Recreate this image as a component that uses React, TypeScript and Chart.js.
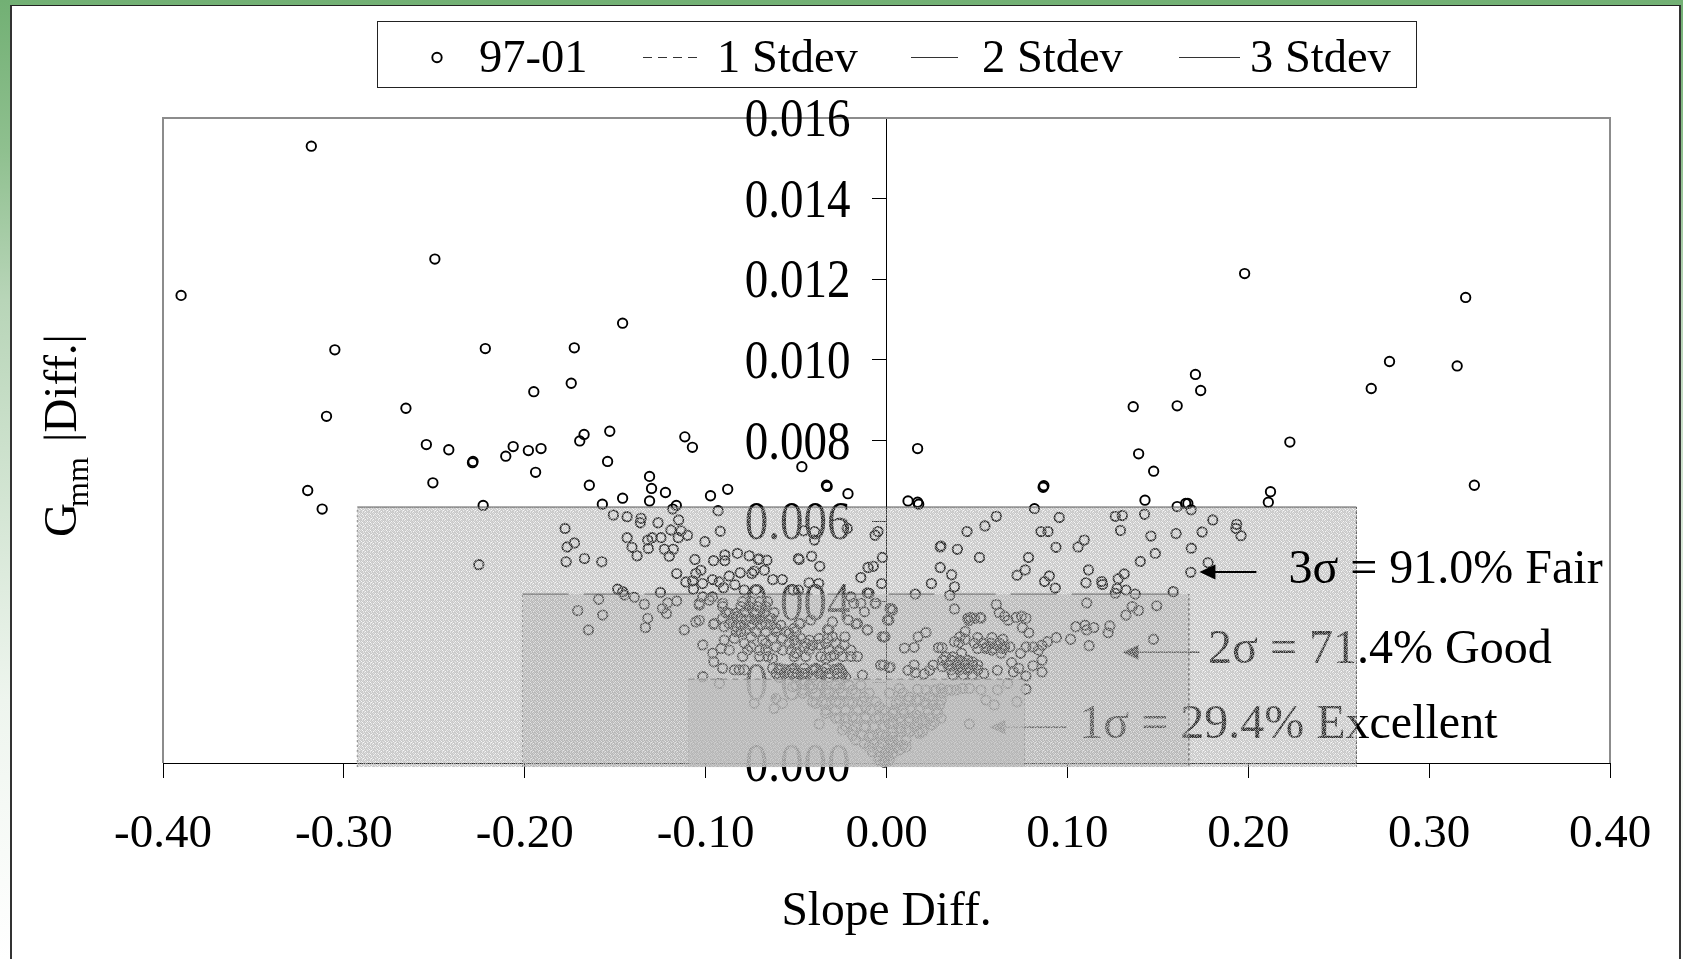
import React, { useEffect, useRef } from "react";
import { Chart, registerables } from "chart.js";

Chart.register(...registerables);

const SERIF = '"Liberation Serif", "Times New Roman", serif';

const outliersLeft: [number, number][] = [
  [-0.39,0.0116],[-0.318,0.0153],[-0.305,0.01025],[-0.3096,0.0086],[-0.32,0.00676],[-0.312,0.0063],[-0.2497,0.0125],[-0.2657,0.0088],[-0.2544,0.0079],[-0.242,0.00777],[-0.2508,0.00695],[-0.2218,0.01028],[-0.2289,0.00745],[-0.2286,0.00748],[-0.2105,0.00761],[-0.2064,0.00785],[-0.198,0.00775],[-0.191,0.0078],[-0.195,0.00921],[-0.194,0.00721],[-0.1743,0.00942],[-0.1726,0.0103],[-0.1672,0.00815],[-0.1696,0.00799],[-0.153,0.00823],[-0.1542,0.00748],[-0.1459,0.01091],[-0.1643,0.00689],[-0.1459,0.00657],[-0.1571,0.00642],[-0.223,0.00639],[-0.131,0.00711],[-0.1299,0.00681],[-0.131,0.0065],[-0.1222,0.00671],[-0.1162,0.00639],[-0.1115,0.00809],[-0.1073,0.00783],[-0.0973,0.00663],[-0.0878,0.00679],[-0.0931,0.00626],[-0.0468,0.00735],[-0.0332,0.00689],[-0.0328,0.00686],[-0.0213,0.00668],[-0.1182,0.0063],
];

const outliersRight: [number, number][] = [
  [0.198,0.01214],[0.3202,0.01155],[0.3155,0.00985],[0.2781,0.00996],[0.268,0.00929],[0.325,0.00689],[0.223,0.00796],[0.2123,0.00673],[0.2111,0.00647],[0.1708,0.00964],[0.1737,0.00924],[0.1364,0.00884],[0.1607,0.00886],[0.1394,0.00767],[0.1477,0.00724],[0.1429,0.00652],[0.1607,0.00636],[0.1666,0.00644],[0.1654,0.00644],[0.1684,0.00628],[0.0172,0.0078],[0.0119,0.0065],[0.0172,0.00647],[0.0178,0.00642],[0.0866,0.00684],[0.087,0.00688],[0.0818,0.00631],
];

const bandRight: [number, number][] = [
  [0.0955,0.00609],[0.1265,0.00612],[0.1304,0.00614],[0.1427,0.00617],[0.1804,0.00603],[0.1936,0.00592],[0.1932,0.00582],[0.196,0.00564],[0.0607,0.00612],[0.0544,0.00588],[0.0445,0.00574],[0.0297,0.00536],[0.0301,0.00538],[0.0392,0.0053],[0.0514,0.0051],[0.0854,0.00574],[0.0893,0.00574],[0.1294,0.00577],[0.1462,0.00563],[0.1601,0.00569],[0.1745,0.00573],[0.0937,0.00535],[0.1093,0.00553],[0.1059,0.00536],[0.1685,0.00533],[0.1486,0.0052],[0.1403,0.005],[0.0785,0.0051],[0.1778,0.00497],[0.1682,0.00473],[0.0767,0.00479],[0.0722,0.00466],[0.0297,0.00485],[0.036,0.00467],[0.0248,0.00445],[0.0376,0.00437],[0.035,0.00416],[0.0159,0.00419],[0.09,0.00464],[0.0874,0.0045],[0.0933,0.00434],[0.1117,0.00479],[0.1103,0.00447],[0.119,0.0045],[0.1194,0.00443],[0.1281,0.00457],[0.1314,0.00469],[0.1275,0.00433],[0.1265,0.00421],[0.1324,0.00429],[0.1375,0.00419],[0.1585,0.00425],[0.1107,0.00397],[0.1358,0.00388],[0.1393,0.00378],[0.1324,0.00367],[0.1494,0.0039],[0.1476,0.00307],[0.0376,0.00382],[0.0607,0.00393],[0.0623,0.00373],[0.0653,0.00364],[0.0672,0.00354],[0.0716,0.00361],[0.0747,0.00364],[0.0771,0.00359],[0.0465,0.00361],[0.0518,0.00361],[0.0455,0.00353],[0.0787,0.00323],[0.0751,0.00336],[0.0218,0.00324],[0.0175,0.00313],[0.0153,0.00287],[0.0099,0.00285],[0.0287,0.00286],[0.0307,0.00286],[0.0435,0.00326],[0.0406,0.00313],[0.0376,0.00301],[0.0435,0.00307],[0.04,0.00298],[0.0504,0.00311],[0.0583,0.00311],[0.0643,0.00307],[0.0534,0.00297],[0.0554,0.00288],[0.0613,0.00292],[0.0653,0.00288],[0.0682,0.00288],[0.0583,0.0028],[0.0633,0.00272],[0.0939,0.00311],[0.0889,0.00301],[0.086,0.00292],[0.081,0.00288],[0.084,0.0028],[0.0771,0.00288],[0.0741,0.00272],[0.1018,0.00307],[0.1047,0.00338],[0.1097,0.00342],[0.1146,0.00336],[0.1107,0.0033],[0.112,0.00291],[0.1235,0.0034],[0.1225,0.00323],[0.0327,0.00263],[0.0366,0.00263],[0.0415,0.00272],[0.0386,0.00247],[0.0435,0.00247],[0.0346,0.00243],[0.0475,0.00251],[0.0406,0.00239],[0.0445,0.00235],[0.0504,0.00243],[0.0153,0.00243],[0.0119,0.0023],[0.0159,0.00224],[0.0208,0.00221],[0.0258,0.00243],[0.0238,0.0023],[0.0307,0.00239],[0.0366,0.00218],[0.0425,0.00218],[0.0475,0.00218],[0.0538,0.00222],[0.0613,0.0023],[0.0692,0.00249],[0.0731,0.00235],[0.0702,0.00226],[0.0771,0.00216],[0.081,0.00241],[0.086,0.00255],[0.086,0.00226],[0.002,0.00383],[0.0011,0.00354],[-0.0009,0.00313],[-0.0015,0.00243],[0.002,0.00238],
];

const coreRight: [number, number][] = [
  [0.0072,0.00185],[0.0173,0.00183],[0.0302,0.00185],[0.0357,0.00181],[0.0421,0.00185],[0.0458,0.00185],[0.0522,0.00181],[0.0614,0.00181],[0.0771,0.00183],[0.067,0.00197],[0.055,0.00156],[0.0596,0.00144],[0.0721,0.00152],[0.0458,0.00097],[0.0016,0.00173],[0.0053,0.00148],[0.0035,0.00123],[0.009,0.00173],[0.0127,0.00164],[0.0182,0.00156],[0.0237,0.00164],[0.0274,0.00181],[0.0311,0.00173],[0.0256,0.00144],[0.0219,0.00148],[0.0293,0.00144],[0.0283,0.00123],[0.0237,0.00111],[0.0302,0.00111],[0.02,0.00106],[0.0164,0.00119],[0.0127,0.00111],[0.0072,0.00111],[0.0099,0.00123],[0.0072,0.00086],[0.0035,0.00098],[0.0108,0.00082],[0.0155,0.0009],[0.0182,0.00073],[0.0247,0.00094],[0.02,0.00078],[0.009,0.00044],[0.0035,0.00053],[-0.0002,0.00065],[0.0072,0.00032],[0.0108,0.0004],[0.0035,0.00024],[0.0007,0.00016],[-0.0011,0.00002],[0.0053,0.0004],[0.0016,0.00032],
];

const bandLeft: [number, number][] = [
  [-0.151,0.00615],[-0.1434,0.00611],[-0.1357,0.00607],[-0.1361,0.00596],[-0.1263,0.00596],[-0.1149,0.00603],[-0.1777,0.00582],[-0.1192,0.00578],[-0.1136,0.00576],[-0.11,0.00565],[-0.0919,0.00575],[-0.1151,0.00559],[-0.1247,0.00559],[-0.1296,0.00559],[-0.132,0.00553],[-0.1434,0.00559],[-0.1004,0.00549],[-0.1725,0.00546],[-0.1766,0.00536],[-0.1407,0.00535],[-0.1317,0.00532],[-0.1228,0.0053],[-0.1179,0.0053],[-0.1379,0.00514],[-0.1201,0.00513],[-0.167,0.00507],[-0.1771,0.00499],[-0.1574,0.00499],[-0.1059,0.00505],[-0.0956,0.00502],[-0.0894,0.00516],[-0.0894,0.00502],[-0.0824,0.0052],[-0.0759,0.00514],[-0.0709,0.00505],[-0.116,0.0047],[-0.1026,0.00478],[-0.1054,0.0047],[-0.0809,0.00472],[-0.0744,0.0047],[-0.0732,0.00476],[-0.0962,0.00455],[-0.0925,0.00449],[-0.087,0.00464],[-0.0838,0.00442],[-0.1109,0.00449],[-0.1072,0.00452],[-0.1017,0.00445],[-0.1067,0.00431],[-0.0901,0.00435],[-0.0787,0.00429],[-0.0722,0.00429],[-0.1486,0.00431],[-0.1458,0.00425],[-0.1449,0.00417],[-0.125,0.00423],[-0.1394,0.00411],[-0.1591,0.00406],[-0.1339,0.00394],[-0.116,0.00402],[-0.121,0.00397],[-0.1238,0.00383],[-0.1216,0.00371],[-0.1707,0.00378],[-0.1569,0.00367],[-0.132,0.00359],[-0.1333,0.00336],[-0.1648,0.0033],[-0.1118,0.0033],[-0.1035,0.00354],[-0.1054,0.0035],[-0.0956,0.00344],[-0.0897,0.00338],[-0.0805,0.00326],[-0.1017,0.00412],[-0.1035,0.00392],[-0.0962,0.00412],[-0.0906,0.00396],[-0.087,0.00371],[-0.0824,0.00363],[-0.0759,0.00388],[-0.0722,0.00371],[-0.2254,0.00492],
];

const bandCentre: [number, number][] = [
  [-0.0661,0.00503],[-0.0675,0.00478],[-0.0704,0.00506],[-0.0629,0.00455],[-0.0576,0.00455],[-0.0487,0.00507],[-0.0483,0.00505],[-0.0414,0.00513],[-0.0369,0.00488],[-0.0428,0.00447],[-0.0375,0.00445],[-0.0487,0.00429],[-0.0517,0.00429],[-0.0106,0.00422],[-0.0142,0.0046],[-0.0102,0.00485],[-0.0073,0.00488],[-0.0023,0.0051],[-0.0027,0.00445],[-0.0063,0.00565],[-0.0047,0.00574],[-0.0398,0.00574],[-0.0458,0.00576],[-0.0398,0.00553],[-0.0217,0.00582],[-0.0181,0.00396],[-0.0122,0.00375],[-0.0161,0.00346],[-0.0106,0.0033],[-0.0063,0.00396],[0.0026,0.00383],[0.0013,0.00355],[-0.0013,0.00313],[-0.0299,0.0035],[-0.0319,0.0033],[-0.023,0.00313],[-0.0299,0.00313],[-0.0418,0.00355],[-0.0477,0.00346],
];

const coreLeft: [number, number][] = [
  [-0.1035,0.00396],[-0.0979,0.00404],[-0.0952,0.00346],[-0.0906,0.00388],[-0.0832,0.00371],[-0.0777,0.00355],[-0.0869,0.00346],[-0.0832,0.00338],[-0.0777,0.0033],[-0.0722,0.00355],[-0.0667,0.00346],[-0.0611,0.00334],[-0.1016,0.00293],[-0.0897,0.00305],[-0.0841,0.00309],[-0.0915,0.00284],[-0.0869,0.0028],[-0.0961,0.00272],[-0.0955,0.00251],[-0.0906,0.00235],[-0.1016,0.00214],[-0.0924,0.00197],[-0.0841,0.00231],[-0.0814,0.00231],[-0.0786,0.00231],[-0.0795,0.00264],[-0.0749,0.00288],[-0.0703,0.0028],[-0.0749,0.00313],[-0.0685,0.00305],[-0.063,0.00259],[-0.0611,0.00288],[-0.0575,0.0028],[-0.0538,0.00321],[-0.051,0.00305],[-0.0501,0.00272],[-0.0455,0.00288],[-0.0409,0.00292],[-0.0593,0.00231],[-0.0556,0.00231],[-0.0519,0.00222],[-0.0464,0.00222],[-0.0409,0.00231],[-0.0354,0.00226],[-0.0289,0.00231],[-0.0243,0.00222],[-0.0335,0.00259],[-0.0289,0.00268],[-0.0243,0.00264],[-0.0197,0.00264],[-0.0372,0.00293],[-0.0335,0.00297],[-0.0234,0.00293],[-0.0483,0.00346],[-0.051,0.00334],[-0.0427,0.00305],[-0.0326,0.00331],[-0.0212,0.00355],[-0.017,0.00345],[-0.0105,0.0033],[-0.0023,0.00313],[0.0005,0.00355],[0.0033,0.00379],[-0.0059,0.00396],[-0.0142,0.00396],[-0.0197,0.00412],[-0.0096,0.00421],[-0.0032,0.00243],[0.0014,0.00237],[-0.0133,0.00218],[-0.0731,0.00148],[-0.0621,0.00135],[-0.0575,0.00148],[-0.0611,0.0016],[-0.0372,0.00097],
  [-0.0519,0.00189],[-0.0464,0.00181],[-0.0409,0.00185],[-0.0335,0.00181],[-0.0262,0.00185],[-0.0188,0.00181],[-0.0124,0.00164],[-0.0391,0.00148],[-0.0335,0.00148],[-0.0262,0.00148],[-0.0188,0.00148],[-0.0115,0.0014],[-0.0335,0.00123],[-0.0262,0.00111],[-0.0188,0.00115],[-0.0115,0.00115],[-0.0041,0.0014],[-0.0243,0.00082],[-0.0188,0.00082],[-0.0115,0.0009],[-0.0041,0.00115],[-0.017,0.00057],[-0.0096,0.00065],[-0.0041,0.00073],[0.0014,0.00098],[-0.0096,0.0004],[-0.0041,0.0004],[0.0033,0.00065],[-0.0041,0.00016],[-0.0004,0.00024],[0.0051,0.0004],[-0.0013,0.00005],
];

const denseLeft: [number, number][] = [
  [-0.0795,0.004],[-0.0749,0.004],[-0.0703,0.004],[-0.0657,0.004],[-0.0805,0.00388],[-0.0759,0.00388],[-0.0713,0.00388],[-0.0667,0.00388],[-0.0887,0.00373],[-0.0786,0.00373],[-0.0731,0.00373],[-0.0676,0.00373],[-0.0621,0.00373],[-0.0906,0.00359],[-0.0851,0.00359],[-0.0805,0.00359],[-0.0749,0.00359],[-0.0694,0.00359],[-0.0639,0.00359],[-0.0805,0.00342],[-0.0749,0.00342],[-0.0694,0.00342],[-0.0639,0.00342],[-0.0584,0.00342],[-0.0832,0.00326],[-0.0722,0.00326],[-0.0667,0.00326],[-0.0611,0.00326],[-0.0556,0.00326],[-0.0501,0.00326],[-0.063,0.00309],[-0.0575,0.00309],[-0.0473,0.00309],[-0.0372,0.00309],[-0.0326,0.00309],[-0.0786,0.00297],[-0.0667,0.00297],[-0.0538,0.00297],[-0.0501,0.00297],[-0.0446,0.00297],[-0.028,0.00297],[-0.0768,0.0028],[-0.0667,0.0028],[-0.0529,0.0028],[-0.0427,0.0028],[-0.0317,0.0028],[-0.0262,0.0028],[-0.0197,0.0028],[-0.0703,0.00264],[-0.0657,0.00264],[-0.051,0.00264],[-0.0446,0.00264],[-0.0363,0.00264],[-0.0308,0.00264],[-0.0161,0.00264],[-0.063,0.00235],[-0.0593,0.00235],[-0.051,0.00235],[-0.0455,0.00235],[-0.0391,0.00235],[-0.0335,0.00235],[-0.0262,0.00235],[-0.0611,0.00222],[-0.0565,0.00222],[-0.0492,0.00222],[-0.0437,0.00222],[-0.0372,0.00222],[-0.0317,0.00222],[-0.0271,0.00222],[-0.0593,0.00212],[-0.0501,0.00212],[-0.0409,0.00212],[-0.0317,0.00212],[-0.0225,0.00212],
];

const denseTriangleLeft: [number, number][] = [
  [-0.0501,0.00193],[-0.0427,0.00193],[-0.0354,0.00193],[-0.028,0.00193],[-0.0207,0.00193],[-0.0142,0.00193],[-0.0464,0.00173],[-0.0391,0.00173],[-0.0317,0.00173],[-0.0243,0.00173],[-0.017,0.00173],[-0.0096,0.00173],[-0.0409,0.00152],[-0.0354,0.00152],[-0.028,0.00152],[-0.0207,0.00152],[-0.0133,0.00152],[-0.0059,0.00152],[-0.0335,0.00131],[-0.028,0.00131],[-0.0225,0.00131],[-0.0161,0.00131],[-0.0087,0.00131],[-0.0013,0.00131],[-0.028,0.00111],[-0.0225,0.00111],[-0.017,0.00111],[-0.0115,0.00111],[-0.0059,0.00111],[0.0005,0.00111],[-0.0225,0.0009],[-0.017,0.0009],[-0.0124,0.0009],[-0.0069,0.0009],[-0.0013,0.0009],[-0.0188,0.00069],[-0.0133,0.00069],[-0.0078,0.00069],[-0.0023,0.00069],[-0.0124,0.00049],[-0.0069,0.00049],[-0.0023,0.00049],[0.0024,0.00049],[-0.0078,0.00028],[-0.0041,0.00028],[0.0005,0.00028],[-0.0041,0.00007],[-0.0013,0.00007],[0.0014,0.00007],
];

const denseRight: [number, number][] = [
  [0.0311,0.00255],[0.0357,0.00255],[0.0403,0.00255],[0.0449,0.00255],[0.0339,0.00243],[0.0385,0.00243],[0.0431,0.00243],[0.0476,0.00243],[0.0357,0.00231],[0.0403,0.00231],[0.0449,0.00231],[0.0504,0.00231],[0.0486,0.00297],[0.0532,0.00297],[0.0578,0.00297],[0.0624,0.00297],[0.0504,0.00284],[0.055,0.00284],[0.0596,0.00284],[0.0642,0.00284],[0.0449,0.00359],[0.0486,0.00359],[0.0522,0.00359],[0.0219,0.00181],[0.0265,0.00181],[0.0339,0.00181],[0.0385,0.00181],[0.0072,0.00156],[0.0118,0.00156],[0.0164,0.00156],[0.0256,0.00156],[0.0302,0.00156],[0.0044,0.00131],[0.009,0.00131],[0.0136,0.00131],[0.0182,0.00131],[0.0228,0.00131],[0.0274,0.00131],[0.0035,0.00102],[0.0081,0.00102],[0.0127,0.00102],[0.0173,0.00102],[0.0219,0.00102],[0.0265,0.00102],[0.0035,0.00078],[0.0081,0.00078],[0.0127,0.00078],[0.0173,0.00078],[0.0016,0.00057],[0.0062,0.00057],[0.0108,0.00057],
];

const seriesLabel = "97-01";
const seriesPoints = [...outliersLeft, ...outliersRight, ...bandRight, ...coreRight, ...bandLeft, ...bandCentre, ...coreLeft, ...denseLeft, ...denseTriangleLeft, ...denseRight];

const stdevLabels = ["1 Stdev", "2 Stdev", "3 Stdev"];
const stdevLeft = [-0.1095, -0.2012, -0.2926];
const stdevRight = [0.0763, 0.1672, 0.2598];
const stdevTop = [0.00208, 0.00419, 0.00635];
const stdevFloor = -0.0001;

const xTicks = [-0.4, -0.3, -0.2, -0.1, 0, 0.1, 0.2, 0.3, 0.4];
const yTicks = [0, 0.002, 0.004, 0.006, 0.008, 0.01, 0.012, 0.014, 0.016];

const noteTexts = ["1σ = 29.4% Excellent", "2σ = 71.4% Good", "3σ = 91.0% Fair"];
const noteTextX = [0.1066, 0.1778, 0.2222];
const noteTextY = [0.00062, 0.00248, 0.00447];
const arrowFrom = [0.0998, 0.173, 0.2045];
const arrowTo = [0.0569, 0.1305, 0.173];
const arrowY = [0.00089, 0.00275, 0.00474];

// tile of gray / alpha offsets for the halftone look of the shaded boxes
const TILE = [
  3, 0, 5, 1, 6, 2, 4, 0,
  1, 6, 2, 4, 0, 5, 1, 7,
  5, 2, 7, 0, 3, 1, 6, 2,
  0, 4, 1, 6, 2, 7, 3, 5,
  6, 1, 3, 5, 0, 4, 0, 2,
  2, 7, 0, 2, 6, 1, 5, 3,
  4, 1, 5, 7, 3, 0, 2, 6,
  0, 3, 6, 1, 4, 7, 1, 4,
];

function makePattern(ctx: CanvasRenderingContext2D, gray: number, alpha: number, spread: number) {
  const tile = document.createElement("canvas");
  tile.width = 8;
  tile.height = 8;
  const t = tile.getContext("2d")!;
  const img = t.createImageData(8, 8);
  TILE.forEach((v, i) => {
    const d = (v - 3.5) * spread;
    const g = Math.max(0, Math.min(255, gray + d * 3));
    img.data[i * 4] = g;
    img.data[i * 4 + 1] = g;
    img.data[i * 4 + 2] = g;
    img.data[i * 4 + 3] = Math.max(0, Math.min(255, alpha * 255 + d * 2));
  });
  t.putImageData(img, 0, 0);
  return ctx.createPattern(tile, "repeat")!;
}

function drawNote(ctx: CanvasRenderingContext2D, x: any, y: any, i: number, color: string) {
  ctx.save();
  ctx.fillStyle = color;
  ctx.strokeStyle = color;
  ctx.lineWidth = i === 2 ? 2 : 1.4;
  ctx.font = `48px ${SERIF}`;
  ctx.textAlign = "left";
  ctx.textBaseline = "alphabetic";
  ctx.fillText(noteTexts[i], x.getPixelForValue(noteTextX[i]), y.getPixelForValue(noteTextY[i]));
  const tip = x.getPixelForValue(arrowTo[i]);
  const ay = y.getPixelForValue(arrowY[i]);
  ctx.beginPath();
  ctx.moveTo(x.getPixelForValue(arrowFrom[i]), ay);
  ctx.lineTo(tip + 8, ay);
  ctx.stroke();
  ctx.beginPath();
  ctx.moveTo(tip, ay);
  ctx.lineTo(tip + 16, ay - 7.5);
  ctx.lineTo(tip + 16, ay + 7.5);
  ctx.closePath();
  ctx.fill();
  ctx.restore();
}

const overlayPlugin = {
  id: "overlay",
  beforeDatasetsDraw(chart: any) {
    const { ctx, chartArea: a, scales } = chart;
    ctx.save();
    ctx.strokeStyle = "#8c8c8c";
    ctx.lineWidth = 2;
    ctx.beginPath();
    ctx.moveTo(a.left, a.bottom);
    ctx.lineTo(a.left, a.top);
    ctx.lineTo(a.right, a.top);
    ctx.lineTo(a.right, a.bottom);
    ctx.stroke();
    ctx.restore();
    // y tick labels sit left of the centred axis, tall and narrow as in the source
    const ax = scales.x.getPixelForValue(0);
    yTicks.forEach((v) => {
      ctx.save();
      ctx.translate(ax - 36, scales.y.getPixelForValue(v) + 18);
      ctx.scale(1, 1.18);
      ctx.fillStyle = "#000";
      ctx.font = `47px ${SERIF}`;
      ctx.textAlign = "right";
      ctx.textBaseline = "alphabetic";
      ctx.fillText(v.toFixed(3), 0, 0);
      ctx.restore();
    });
    drawNote(ctx, scales.x, scales.y, 0, "#000");
    drawNote(ctx, scales.x, scales.y, 1, "#000");
  },
  beforeDatasetDraw(chart: any, args: any) {
    const ds = chart.data.datasets[args.index];
    if (!ds.boxFill) return;
    const { ctx, scales } = chart;
    const [p0, , p2] = ds.data;
    const l = scales.x.getPixelForValue(p0.x);
    const r = scales.x.getPixelForValue(p2.x);
    const t = scales.y.getPixelForValue(p2.y);
    const b = scales.y.getPixelForValue(p0.y);
    ctx.save();
    ctx.fillStyle = makePattern(ctx, ds.boxFill[0], ds.boxFill[1], ds.boxFill[2]);
    ctx.fillRect(l, t, r - l, b - t);
    ctx.restore();
  },
  afterDatasetsDraw(chart: any) {
    const { ctx, scales } = chart;
    drawNote(ctx, scales.x, scales.y, 2, "#000");
    // y-axis title with its subscript
    ctx.save();
    ctx.translate(76, 537);
    ctx.rotate(-Math.PI / 2);
    ctx.fillStyle = "#000";
    ctx.textBaseline = "alphabetic";
    ctx.textAlign = "left";
    ctx.font = `47px ${SERIF}`;
    ctx.fillText("G", 0, 0);
    ctx.font = `32px ${SERIF}`;
    ctx.fillText("mm", 30, 12);
    ctx.font = `47px ${SERIF}`;
    ctx.fillText("|Diff.|", 95, 0);
    ctx.restore();
    // legend
    const bx = 377.5, by = 21.5, bw = 1039, bh = 66;
    ctx.save();
    ctx.fillStyle = "#fff";
    ctx.fillRect(bx, by, bw, bh);
    ctx.strokeStyle = "#222";
    ctx.lineWidth = 1;
    ctx.strokeRect(bx, by, bw, bh);
    ctx.fillStyle = "#000";
    ctx.font = `46.5px ${SERIF}`;
    ctx.textBaseline = "alphabetic";
    ctx.textAlign = "left";
    ctx.fillText(seriesLabel, 479, 72);
    ctx.fillText(stdevLabels[0], 717, 72);
    ctx.fillText(stdevLabels[1], 982, 72);
    ctx.fillText(stdevLabels[2], 1250, 72);
    ctx.strokeStyle = "#000";
    ctx.lineWidth = 1.9;
    ctx.beginPath();
    ctx.arc(437, 57.5, 4.7, 0, Math.PI * 2);
    ctx.stroke();
    ctx.lineWidth = 1;
    ctx.strokeStyle = "#333";
    ctx.setLineDash([9, 6]);
    ctx.beginPath();
    ctx.moveTo(643, 57.5);
    ctx.lineTo(697, 57.5);
    ctx.stroke();
    ctx.setLineDash([]);
    ctx.beginPath();
    ctx.moveTo(911, 57.5);
    ctx.lineTo(958, 57.5);
    ctx.moveTo(1179, 57.5);
    ctx.lineTo(1240, 57.5);
    ctx.stroke();
    ctx.restore();
  },
};

function boxData(i: number) {
  return [
    { x: stdevLeft[i], y: stdevFloor },
    { x: stdevLeft[i], y: stdevTop[i] },
    { x: stdevRight[i], y: stdevTop[i] },
    { x: stdevRight[i], y: stdevFloor },
  ];
}

// box sides are much fainter than the top edge
const topOnly = (top: string, side: string) => (c: any) => (c.p0DataIndex === 1 ? top : side);
const dashOnly = (top: number[]) => (c: any) => (c.p0DataIndex === 1 ? top : [2, 3]);

export default function App() {
  const ref = useRef<HTMLCanvasElement>(null);
  useEffect(() => {
    const chart = new Chart(ref.current!, {
      type: "scatter",
      data: {
        datasets: [
          {
            label: seriesLabel,
            data: seriesPoints.map(([x, y]) => ({ x, y })),
            order: 4,
            clip: false,
            pointStyle: "circle",
            pointRadius: 4.7,
            pointBorderWidth: 1.9,
            pointBorderColor: "#000",
            pointBackgroundColor: "rgba(0,0,0,0)",
            showLine: false,
          },
          {
            label: stdevLabels[2],
            data: boxData(2),
            order: 3,
            clip: false,
            showLine: true,
            fill: false,
            pointRadius: 0,
            borderColor: "rgba(60,60,60,0.8)",
            borderWidth: 1,
            boxFill: [172, 0.54, 7],
            segment: {
              borderColor: topOnly("rgba(60,60,60,0.85)", "rgba(60,60,60,0.55)"),
              borderDash: dashOnly([]),
            },
          },
          {
            label: stdevLabels[1],
            data: boxData(1),
            order: 2,
            clip: false,
            showLine: true,
            fill: false,
            pointRadius: 0,
            borderColor: "rgba(70,70,70,0.7)",
            borderWidth: 1,
            boxFill: [178, 0.42, 3],
            segment: {
              borderColor: topOnly("rgba(70,70,70,0.75)", "rgba(70,70,70,0.45)"),
              borderDash: dashOnly([46, 15]),
            },
          },
          {
            label: stdevLabels[0],
            data: boxData(0),
            order: 1,
            clip: false,
            showLine: true,
            fill: false,
            pointRadius: 0,
            borderColor: "rgba(80,80,80,0.45)",
            borderWidth: 1,
            boxFill: [190, 0.72, 1],
            segment: {
              borderColor: topOnly("rgba(80,80,80,0.5)", "rgba(80,80,80,0.12)"),
              borderDash: dashOnly([6, 5]),
            },
          },
        ] as any,
      },
      options: {
        animation: false,
        responsive: false,
        maintainAspectRatio: false,
        layout: { padding: { left: 163, right: 73, top: 118, bottom: 0 } },
        plugins: { legend: { display: false }, title: { display: false }, tooltip: { enabled: false } },
        scales: {
          x: {
            type: "linear",
            min: -0.4,
            max: 0.4,
            afterBuildTicks: (s: any) => { s.ticks = xTicks.map((value) => ({ value })); },
            afterFit: (s: any) => { s.height = 196; },
            grid: { drawOnChartArea: false, tickLength: 15, color: "#000", lineWidth: 1 },
            border: { color: "#000", width: 1 },
            ticks: {
              font: { family: SERIF, size: 47 },
              color: "#000",
              padding: 28,
              maxRotation: 0,
              autoSkip: false,
              callback: (v: any) => Number(v).toFixed(2),
            },
            title: { display: true, text: "Slope Diff.", font: { family: SERIF, size: 47.5 }, color: "#000", padding: { top: 0, bottom: 18 } },
          },
          y: {
            type: "linear",
            position: { x: 0 } as any,
            min: 0,
            max: 0.016,
            afterBuildTicks: (s: any) => { s.ticks = yTicks.map((value) => ({ value })); },
            grid: { drawOnChartArea: false, tickLength: 14, color: "#000", lineWidth: 1 },
            border: { color: "#000", width: 1 },
            ticks: { display: false },
          },
        },
      } as any,
      plugins: [overlayPlugin as any],
    });
    return () => chart.destroy();
  }, []);

  return (
    <div style={{ position: "absolute", left: 0, top: 0, width: 1683, height: 959, overflow: "hidden", background: "linear-gradient(to bottom, #72b074 0px, #8fc08f 150px, #b8d5b8 300px, #eef5ee 700px, #ffffff 959px)" }}>
      <div style={{ position: "absolute", left: 10, top: 5, width: 1671, height: 960, background: "#fff", borderLeft: "2px solid #333", borderTop: "1.5px solid #222", borderRight: "2px solid #333", boxSizing: "border-box" }} />
      <canvas ref={ref} width={1683} height={959} style={{ position: "absolute", left: 0, top: 0, display: "block" }} />
    </div>
  );
}
